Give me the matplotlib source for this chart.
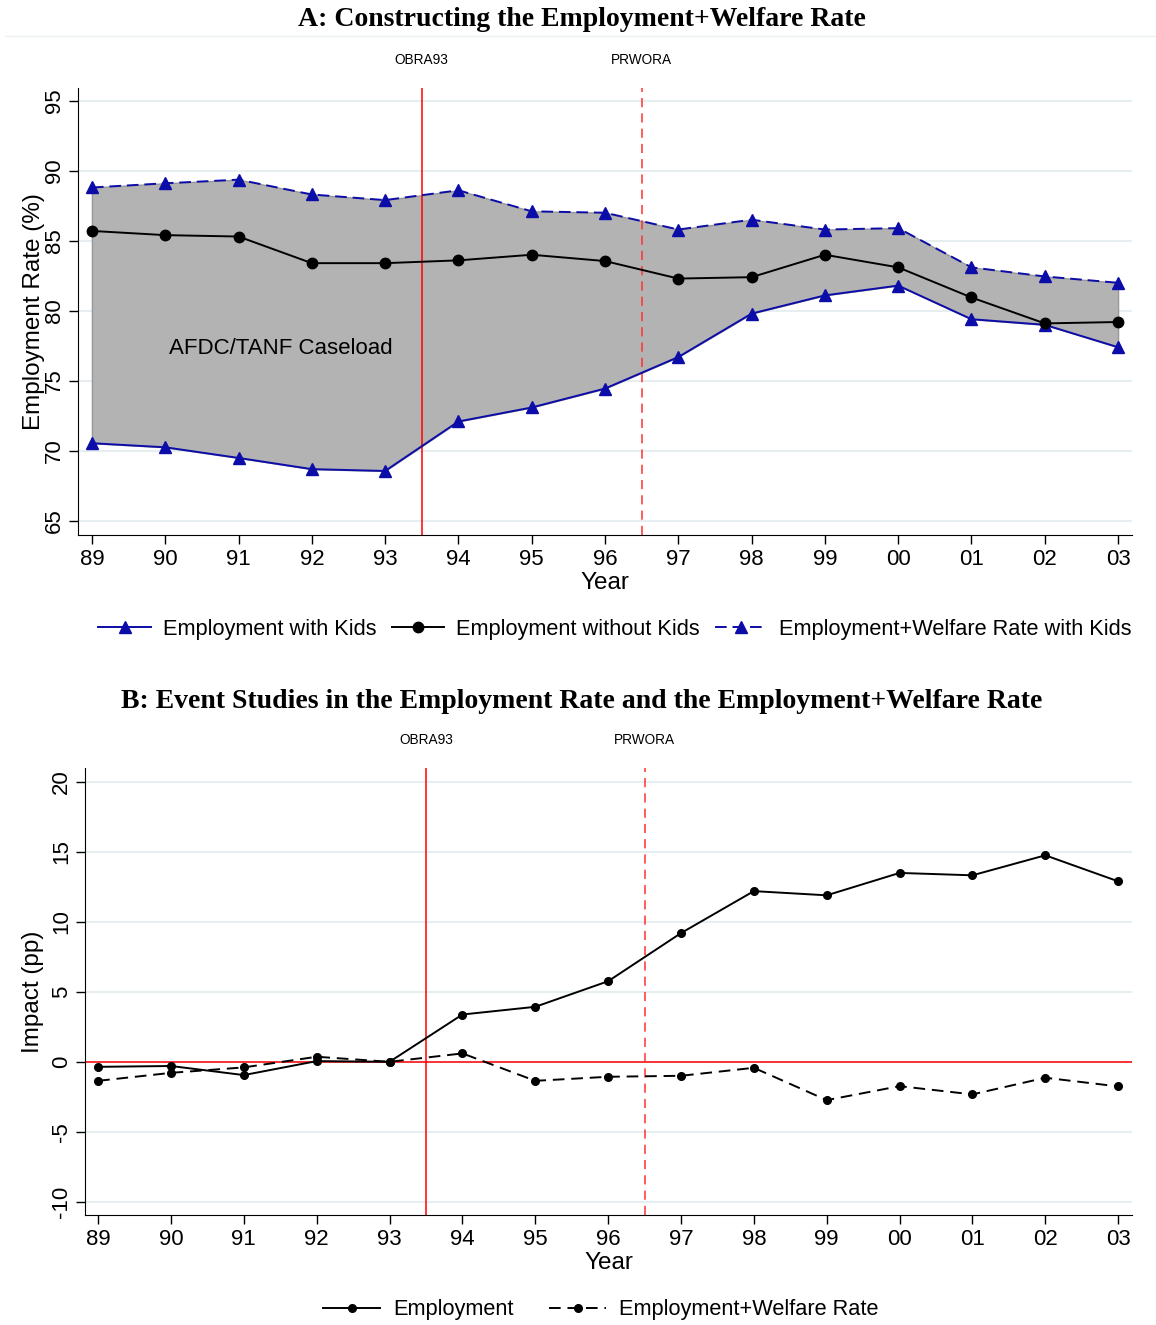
import matplotlib.pyplot as plt
import numpy as np
from matplotlib.lines import Line2D
from matplotlib.transforms import blended_transform_factory

plt.rcParams['font.family'] = ['Liberation Sans', 'DejaVu Sans']

# Years 1989-2003, labelled with two digits
years = np.arange(1989, 2004)
year_labels = ['89', '90', '91', '92', '93', '94', '95', '96', '97', '98', '99', '00', '01', '02', '03']

# Panel A: employment rates (%)
emp_kids = [70.55, 70.26, 69.5, 68.7, 68.57, 72.1, 73.1, 74.45, 76.7, 79.8, 81.1, 81.8, 79.4, 79.0, 77.4]
emp_nokids = [85.7, 85.4, 85.3, 83.4, 83.4, 83.6, 84.0, 83.55, 82.3, 82.4, 84.0, 83.1, 80.95, 79.1, 79.2]
empwel_kids = [88.8, 89.1, 89.36, 88.3, 87.9, 88.6, 87.1, 87.0, 85.8, 86.5, 85.8, 85.9, 83.1, 82.45, 82.0]

# Panel B: event study impacts (pp)
impact_emp = [-0.36, -0.3, -0.95, 0.05, 0.0, 3.38, 3.93, 5.76, 9.2, 12.2, 11.9, 13.5, 13.33, 14.76, 12.9]
impact_empwel = [-1.36, -0.79, -0.4, 0.36, 0.0, 0.6, -1.36, -1.07, -1.0, -0.43, -2.74, -1.74, -2.33, -1.14, -1.76]

reforms = {'OBRA93': 1993.5, 'PRWORA': 1996.5}

navy = '#0c0ca8'
grid_col = '#e6eef1'
tick_fs = 16
lab_fs = 17.5
leg_fs = 15.7

fig = plt.figure(figsize=(11.56, 13.25), dpi=100)
axA = fig.add_axes([78/1156, 1-535/1325, 1054/1156, 447/1325])
axB = fig.add_axes([85/1156, 1-1215/1325, 1047/1156, 447/1325])


def style_axis(ax, yticks, ylabel, ypad):
    for s in ['top', 'right']:
        ax.spines[s].set_visible(False)
    ax.set_xticks(years)
    ax.set_xticklabels(year_labels, fontsize=tick_fs)
    ax.set_yticks(yticks)
    ax.set_yticklabels([str(t) for t in yticks], fontsize=tick_fs, rotation=90, va='center')
    ax.tick_params(axis='both', length=6.5, width=1, direction='out')
    ax.tick_params(axis='x', pad=3.5)
    ax.tick_params(axis='y', pad=3)
    ax.yaxis.grid(True, color=grid_col, lw=1.5)
    ax.set_axisbelow(True)
    ax.set_xlabel('Year', fontsize=lab_fs, labelpad=1.5)
    ax.set_ylabel(ylabel, fontsize=lab_fs, labelpad=ypad)


def mark_reforms(ax):
    tr = blended_transform_factory(ax.transData, ax.transAxes)
    ax.axvline(reforms['OBRA93'], color='#ff0000', lw=1.1, zorder=1.5)
    ax.axvline(reforms['PRWORA'], color='#ff3030', lw=1.1, ls=(0, (6, 4)), zorder=1.5)
    for name, x in reforms.items():
        ax.text(x, 1.062, name, transform=tr, ha='center', va='center', fontsize=9.8)


# ---- Panel A ----
axA.fill_between(years, emp_kids, empwel_kids, color='#b3b3b3', edgecolor='#999999', lw=1, zorder=1)
mark_reforms(axA)
axA.plot(years, emp_kids, color=navy, lw=1.4, marker='^', ms=9, zorder=3)
axA.plot(years, emp_nokids, color='black', lw=1.4, marker='o', ms=7.5, zorder=3)
axA.plot(years, empwel_kids, color=navy, lw=1.4, ls=(0, (6, 3)), marker='^', ms=9, zorder=3)
axA.text(1990.05, 77.3, 'AFDC/TANF Caseload', fontsize=16, va='center', ha='left')
axA.set_xlim(1988.81, 2003.19)
axA.set_ylim(64.0, 95.9)
style_axis(axA, [65, 70, 75, 80, 85, 90, 95], 'Employment Rate (%)', -1)

# ---- Panel B ----
axB.axhline(0, color='#ff0000', lw=1.1, zorder=1.5)
mark_reforms(axB)
axB.plot(years, impact_emp, color='black', lw=1.4, marker='o', ms=5.5, zorder=3)
axB.plot(years, impact_empwel, color='black', lw=1.4, ls=(0, (6, 3.5)), marker='o', ms=5.5, zorder=3)
axB.set_xlim(1988.82, 2003.19)
axB.set_ylim(-10.95, 21.0)
style_axis(axB, [-10, -5, 0, 5, 10, 15, 20], 'Impact (pp)', 4.6)

# ---- titles ----
fig.text(582/1156, 1-20/1325, 'A: Constructing the Employment+Welfare Rate', ha='center', va='center',
         family='Liberation Serif', fontweight='bold', fontsize=20)
fig.text(582/1156, 1-701/1325, 'B: Event Studies in the Employment Rate and the Employment+Welfare Rate',
         ha='center', va='center', family='Liberation Serif', fontweight='bold', fontsize=20)
fig.add_artist(Line2D([5/1156, 1], [1-36/1325, 1-36/1325], color='#edf1f3', lw=1))

# ---- legends ----
hA = [Line2D([], [], color=navy, lw=1.4, marker='^', ms=9),
      Line2D([], [], color='black', lw=1.4, marker='o', ms=7.5),
      Line2D([], [], color=navy, lw=1.4, ls=(0, (6, 3)), marker='^', ms=9)]
fig.legend(hA, ['Employment with Kids', 'Employment without Kids', 'Employment+Welfare Rate with Kids'],
           loc='center', bbox_to_anchor=(615/1156, 1-629/1325), ncol=3, frameon=False, fontsize=leg_fs,
           handlelength=2.4, columnspacing=0.7, handletextpad=0.55)

hB = [Line2D([], [], color='black', lw=1.4, marker='o', ms=5.5),
      Line2D([], [], color='black', lw=1.4, ls=(0, (6, 3.5)), marker='o', ms=5.5)]
fig.legend(hB, ['Employment', 'Employment+Welfare Rate'],
           loc='center', bbox_to_anchor=(601/1156, 1-1310/1325), ncol=2, frameon=False, fontsize=leg_fs,
           handlelength=2.6, columnspacing=1.65, handletextpad=0.6)

fig.savefig('out.png', dpi=100)
